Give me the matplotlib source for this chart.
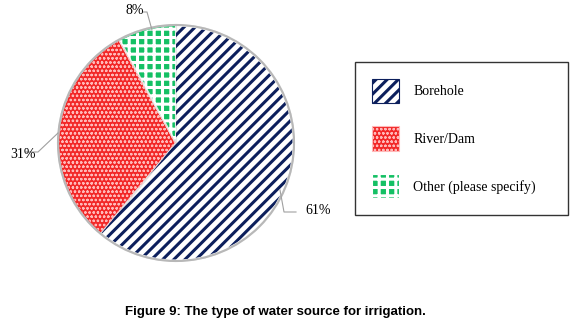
import matplotlib
matplotlib.use("Agg")
import matplotlib.pyplot as plt
from matplotlib.patches import Patch

categories = ["Borehole", "River/Dam", "Other (please specify)"]
values = [61, 31, 8]
pct_labels = ["61%", "31%", "8%"]
face_colors = ["#ffffff", "#f22828", "#14c064"]
hatch_colors = ["#0c1f5c", "#ffb8b8", "#ffffff"]
hatches = ["///", "oooo", "++"]
hatch_lw = [2.2, 0.6, 2.2]
title = "Figure 9: The type of water source for irrigation."

W, H = 580, 325
fig = plt.figure(figsize=(W / 100, H / 100), dpi=100)
ax = fig.add_axes([0, 0, 1, 1])

cx, cy, r = 176, H - 143, 118


def set_hlw(p, lw):
    try:
        p.set_hatch_linewidth(lw)
    except AttributeError:
        p._hatch_linewidth = lw


wedges, _ = ax.pie(values, colors=face_colors, startangle=90, counterclock=False,
                   center=(cx, cy), radius=r, frame=True,
                   wedgeprops=dict(edgecolor="#e6e6e6", linewidth=1.5))
over, _ = ax.pie(values, colors=["none"] * 3, startangle=90, counterclock=False,
                 center=(cx, cy), radius=r - 1.5, frame=True,
                 wedgeprops=dict(linewidth=0, fill=False))
for w, h, hc, lw in zip(over, hatches, hatch_colors, hatch_lw):
    w.set_hatch(h)
    w.set_edgecolor(hc)
    set_hlw(w, lw)
ax.add_patch(plt.Circle((cx, cy), r, fill=False, edgecolor="#b8b8b8", linewidth=1.5))
ax.set_xlim(0, W)
ax.set_ylim(0, H)
ax.set_aspect("equal")
ax.axis("off")

serif = ["Liberation Serif", "DejaVu Serif"]
lab_pos = [(305, H - 211), (10, H - 155), (126, H - 11)]
lines = [[(296, 284, 280), (H - 212, H - 212, H - 190)],
         [(26, 38, 58), (H - 152, H - 152, H - 133)],
         [(143, 147, 152), (H - 12, H - 12, H - 30)]]
for (x, y), t, (lx, ly) in zip(lab_pos, pct_labels, lines):
    ax.text(x, y, t, fontsize=10, family=serif, ha="left", va="center")
    ax.plot(lx, ly, color="#a0a0a0", linewidth=0.8)

handles = []
for fc, hc, h, lw in zip(face_colors, hatch_colors, hatches, hatch_lw):
    p = Patch(facecolor=fc, edgecolor=hc, hatch=h, linewidth=0.8)
    set_hlw(p, lw)
    handles.append(p)
leg = fig.legend(handles, categories, loc="upper left",
                 bbox_to_anchor=(355 / W, 1 - 62 / H, 213 / W, 0.0001),
                 mode="expand", frameon=True, fancybox=False, prop=dict(family=serif, size=10),
                 handlelength=2.0, handleheight=2.3, labelspacing=1.7, borderpad=1.2,
                 handletextpad=1.0, borderaxespad=0)
leg.get_frame().set_edgecolor("black")
leg.get_frame().set_linewidth(1.0)
for lh, hc, lw in zip(leg.legend_handles, hatch_colors, hatch_lw):
    lh.set_edgecolor(hc)
    set_hlw(lh, lw)

fig.text(275 / W, 1 - 312 / H, title, fontsize=9.5, fontweight="bold",
         family=["Liberation Sans", "DejaVu Sans"], ha="center", va="center")

fig.savefig("out.png", dpi=100)
